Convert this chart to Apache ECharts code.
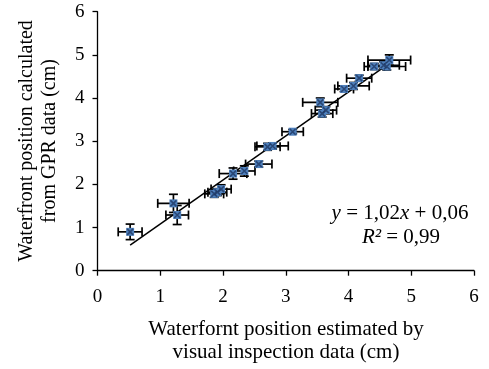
<!DOCTYPE html>
<html><head><meta charset="utf-8">
<script src="https://cdn.jsdelivr.net/npm/echarts@6/dist/echarts.min.js"></script>
<style>html,body{margin:0;padding:0;background:#fff}#c{width:489px;height:369px}</style>
</head><body><div id="c"></div>
<script>
const visualX = [0.52,1.21,1.27,1.86,1.91,1.97,2.16,2.34,2.57,2.71,2.79,3.11,3.55,3.58,3.64,3.93,4.08,4.17,4.41,4.56,4.61,4.65];
const gprY    = [0.90,1.56,1.29,1.78,1.82,1.89,2.25,2.31,2.47,2.87,2.89,3.22,3.90,3.64,3.72,4.21,4.28,4.46,4.73,4.76,4.73,4.88];
const errX    = [0.19,0.25,0.18,0.15,0.15,0.16,0.22,0.17,0.21,0.20,0.25,0.17,0.28,0.17,0.17,0.15,0.25,0.20,0.16,0.25,0.30,0.34];
const errY    = [0.18,0.21,0.22,0.08,0.08,0.10,0.13,0.12,0.07,0.08,0.07,0.05,0.10,0.08,0.08,0.06,0.08,0.07,0.07,0.08,0.08,0.12];
const xTicks = [0,1,2,3,4,5,6];
const yTicks = [0,1,2,3,4,5,6];
const slope = 1.02, intercept = 0.06;

const pts = visualX.map((x,i)=>[x,gprY[i],errX[i],errY[i]]);
const xmin = Math.min(...visualX), xmax = Math.max(...visualX);
const trend = [[xmin, slope*xmin+intercept],[xmax, slope*xmax+intercept]];
const font = 'Liberation Serif';
const tf = '20px "Liberation Serif"';
const tfx = '21px "Liberation Serif"';

const chart = echarts.init(document.getElementById('c'));
chart.setOption({
  animation:false,
  grid:{left:97.5,right:15,top:11.7,bottom:98.3},
  xAxis:{type:'value',min:0,max:6,interval:1,
    axisLine:{lineStyle:{color:'#000',width:1.3}},
    axisTick:{show:true,length:5,lineStyle:{color:'#000',width:1.3}},
    splitLine:{show:false},
    axisLabel:{color:'#000',fontFamily:font,fontSize:19,margin:17,formatter:v=>xTicks.includes(v)?String(v):''}},
  yAxis:{type:'value',min:0,max:6,interval:1,
    axisLine:{show:true,lineStyle:{color:'#000',width:1.3}},
    axisTick:{show:true,length:5,lineStyle:{color:'#000',width:1.3}},
    splitLine:{show:false},
    axisLabel:{color:'#000',fontFamily:font,fontSize:19,margin:13,formatter:v=>yTicks.includes(v)?String(v):''}},
  series:[
    {type:'line',data:trend,symbol:'none',lineStyle:{color:'#000',width:1.5},z:3},
    {type:'custom',z:4,data:pts,renderItem:function(params,api){
      const x=api.value(0),y=api.value(1),ex=api.value(2),ey=api.value(3);
      const c=api.coord([x,y]);
      const l=api.coord([x-ex,y]),r=api.coord([x+ex,y]);
      const t=api.coord([x,y+ey]),b=api.coord([x,y-ey]);
      const cap=4.5;
      const st={stroke:'#000',lineWidth:1.7};
      const ln=(x1,y1,x2,y2)=>({type:'line',shape:{x1,y1,x2,y2},style:st});
      return {type:'group',children:[
        ln(l[0],c[1],r[0],c[1]),
        ln(l[0],c[1]-cap,l[0],c[1]+cap),
        ln(r[0],c[1]-cap,r[0],c[1]+cap),
        ln(c[0],t[1],c[0],b[1]),
        ln(c[0]-cap,t[1],c[0]+cap,t[1]),
        ln(c[0]-cap,b[1],c[0]+cap,b[1])
      ]};
    }},
    {type:'scatter',z:5,data:pts.map(p=>[p[0],p[1]]),symbol:'rect',symbolSize:8,
      itemStyle:{color:'#4f81bd',opacity:1}},
    {type:'scatter',z:6,data:pts.map(p=>[p[0],p[1]]),symbol:'path://M0,0L10,10M10,0L0,10',symbolSize:6,
      itemStyle:{color:'none',borderColor:'#1f3864',borderWidth:1.6}}
  ],
  graphic:[
    {type:'text',x:27,y:141,rotation:Math.PI/2,style:{text:'Waterfront position calculated',font:tf,fill:'#000',align:'center',verticalAlign:'middle'}},
    {type:'text',x:50,y:141,rotation:Math.PI/2,style:{text:'from GPR data (cm)',font:tf,fill:'#000',align:'center',verticalAlign:'middle'}},
    {type:'text',x:286,y:329,style:{text:'Waterfornt position estimated by',font:tfx,fill:'#000',align:'center',verticalAlign:'middle'}},
    {type:'text',x:286,y:352,style:{text:'visual inspection data (cm)',font:tfx,fill:'#000',align:'center',verticalAlign:'middle'}},
    {type:'text',x:400,y:213,style:{text:'{i|y} = 1,02{i|x} + 0,06',align:'center',verticalAlign:'middle',
      rich:{i:{fontFamily:font,fontSize:21,fontStyle:'italic',fill:'#000'}},font:'21px "Liberation Serif"',fill:'#000'}},
    {type:'text',x:401,y:237,style:{text:'{i|R²} = 0,99',align:'center',verticalAlign:'middle',
      rich:{i:{fontFamily:font,fontSize:21,fontStyle:'italic',fill:'#000'}},font:'21px "Liberation Serif"',fill:'#000'}}
  ]
});
</script></body></html>
